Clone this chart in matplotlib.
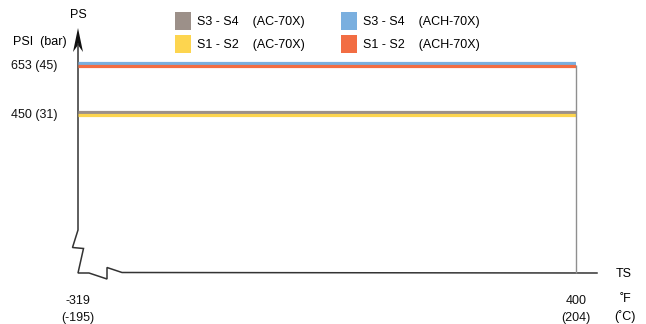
import matplotlib
matplotlib.use('Agg')
import matplotlib.pyplot as plt
from matplotlib.patches import Patch, Polygon
from matplotlib.transforms import offset_copy

plt.rcParams['font.family'] = ['Liberation Sans', 'DejaVu Sans']
plt.rcParams['font.size'] = 9

# data
temps_f = [-319, 400]
temps_c = [-195, 204]
series_names = ['S3 - S4    (AC-70X)', 'S1 - S2    (AC-70X)',
                'S3 - S4    (ACH-70X)', 'S1 - S2    (ACH-70X)']
series_psi = [450, 450, 653, 653]
series_bar = [31, 31, 45, 45]
series_colors = ['#9c9089', '#fdd54f', '#7aafdf', '#f26d43']
series_shift = [1.5, -1.5, 1.5, -1.5]   # px, so the pairs sit side by side

W, H = 646, 324
fig = plt.figure(figsize=(W / 100, H / 100), dpi=100)

# pixel overlay for the axis drawing (arrow, breaks)
deco = fig.add_axes([0, 0, 1, 1])
deco.set_xlim(0, W)
deco.set_ylim(H, 0)
deco.axis('off')

# data axes
left, right, top, bottom = 78, 576, 30, 273
ax = fig.add_axes([left / W, 1 - bottom / H, (right - left) / W, (bottom - top) / H])
ax.patch.set_alpha(0)
ax.set_xlim(temps_f[0], temps_f[1])
ax.set_ylim(-209, 798)
for s in ax.spines.values():
    s.set_visible(False)

for name, p, c, dy in zip(series_names, series_psi, series_colors, series_shift):
    tr = offset_copy(ax.transData, fig=fig, y=dy, units='dots')
    ax.plot(temps_f, [p, p], color=c, lw=2.3, solid_capstyle='butt', transform=tr)

# end of range marker
ax.vlines(temps_f[1], ax.get_ylim()[0], max(series_psi), color='#8f8f8f', lw=1.0,
          clip_on=False)

ticks_psi = sorted(set(series_psi))
ticks_bar = sorted(set(series_bar))
ax.set_yticks(ticks_psi, [f'{p} ({b})' for p, b in zip(ticks_psi, ticks_bar)])
ax.set_xticks(temps_f, [f'{f}\n({c})' for f, c in zip(temps_f, temps_c)])
ax.tick_params(axis='y', length=0, pad=15, labelcolor='#111111')
ax.tick_params(axis='x', length=0, pad=15.5, labelcolor='#111111')
for t in ax.get_xticklabels():
    t.set_linespacing(1.65)

# axes with breaks
axc = '#333333'
deco.plot([78, 78, 72.5, 83.5, 78, 89, 107, 107, 122, 597],
          [44, 230, 247.5, 248.5, 273, 273, 279, 267.5, 272.5, 273],
          color=axc, lw=1.1, solid_joinstyle='miter')
deco.add_patch(Polygon([[78, 28], [83, 52], [78, 45], [73, 52]], closed=True,
                       color='#111111', lw=0))

deco.text(78, 15, 'PS', ha='center', va='center')
deco.text(13, 41.5, 'PSI  (bar)', ha='left', va='center')
deco.text(624, 274, 'TS', ha='center', va='center')
deco.text(626, 298.5, '˚F', ha='center', va='center')
deco.text(625, 317, '(˚C)', ha='center', va='center')

handles = [Patch(facecolor=c, edgecolor='none') for c in series_colors]
fig.legend(handles, series_names, ncol=2, loc='upper left',
           bbox_to_anchor=(175 / W, 1 - 12 / H), frameon=False,
           handlelength=1.3, handleheight=1.8, handletextpad=0.45,
           columnspacing=2.9, labelspacing=0.45, borderpad=0, borderaxespad=0)

fig.savefig('out.png', dpi=100)
